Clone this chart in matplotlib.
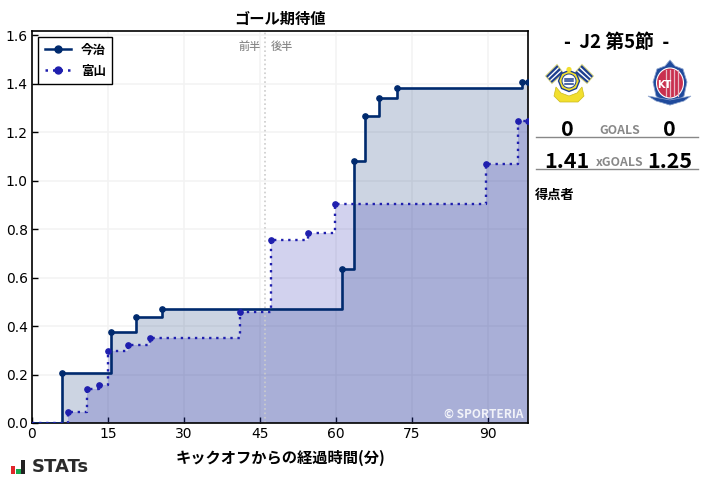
import matplotlib
matplotlib.use("Agg")
import matplotlib.pyplot as plt
from matplotlib.patches import Rectangle, Polygon, Circle, Ellipse, RegularPolygon

plt.rcParams["font.family"] = ["Noto Sans CJK JP", "DejaVu Sans"]

W, H = 707, 479

home_name = "今治"
away_name = "富山"
home_minutes = [0, 5.9, 15.6, 20.6, 25.7, 61.3, 63.6, 65.7, 68.6, 72.2, 96.9, 98]
home_xg = [0, 0.208, 0.375, 0.437, 0.47, 0.635, 1.082, 1.267, 1.34, 1.383, 1.408, 1.408]
away_minutes = [0, 7.2, 10.9, 13.3, 15.1, 19.0, 23.4, 41.0, 47.2, 54.6, 59.8, 89.8, 96.1, 98]
away_xg = [0, 0.046, 0.14, 0.156, 0.297, 0.322, 0.353, 0.458, 0.755, 0.785, 0.904, 1.069, 1.245, 1.245]
x_ticks = [0, 15, 30, 45, 60, 75, 90]
y_ticks = [0.0, 0.2, 0.4, 0.6, 0.8, 1.0, 1.2, 1.4, 1.6]

home_color = "#002a6e"
away_color = "#1f1fae"

fig = plt.figure(figsize=(W / 100, H / 100), dpi=100)
ax = fig.add_axes([32 / W, 1 - 423 / H, 496 / W, 392 / H])

ax.grid(True, color="#f3f3f3", linewidth=1.2, zorder=0)
ax.set_axisbelow(True)

ax.fill_between(home_minutes, home_xg, step="post", color=home_color, alpha=0.2, linewidth=0)
ax.fill_between(away_minutes, away_xg, step="post", color=away_color, alpha=0.2, linewidth=0)

ax.plot(home_minutes[1:], home_xg[1:], "o", color=home_color, markersize=3.8, zorder=4)
ax.plot(away_minutes[1:], away_xg[1:], "o", color=away_color, markersize=3.8, zorder=4)
ax.step(home_minutes, home_xg, where="post", color=home_color, linewidth=1.9, zorder=3)
ax.step(away_minutes, away_xg, where="post", color=away_color, linewidth=1.7, linestyle=(0, (1, 2)), zorder=3)

ax.plot([], [], "-o", color=home_color, markersize=5, linewidth=1.8, label=home_name)
ax.plot([], [], linestyle=(0, (1, 2)), marker="o", color=away_color, markersize=5, linewidth=1.8, label=away_name)

ax.axvline(46, color="#cccccc", linestyle=":", linewidth=1.2, zorder=2)
ax.text(45.2, 1.555, "前半", ha="right", va="center", fontsize=8, fontweight="medium", color="#888888")
ax.text(47.2, 1.555, "後半", ha="left", va="center", fontsize=8, fontweight="medium", color="#888888")
ax.text(97.2, 0.037, "© SPORTERIA", ha="right", va="center", fontsize=8.5,
        fontweight="bold", color="white", alpha=0.85)

ax.set_xlim(0, 98)
ax.set_ylim(0, 392 / 242.2)
ax.set_xticks(x_ticks)
ax.set_yticks(y_ticks)
ax.tick_params(direction="in", length=4, width=1, labelsize=10, pad=3)
for label in ax.get_xticklabels() + ax.get_yticklabels():
    label.set_family("DejaVu Sans")
for spine in ax.spines.values():
    spine.set_linewidth(1.2)

ax.set_title("ゴール期待値", fontsize=11, fontweight="bold", pad=5)
ax.set_xlabel("キックオフからの経過時間(分)", fontsize=11, fontweight="bold", labelpad=6)

leg = ax.legend(loc="upper left", bbox_to_anchor=(0.0, 1.0), fontsize=9, fancybox=False,
                edgecolor="black", framealpha=1, borderaxespad=0.5, handlelength=2.1,
                handletextpad=0.8, labelspacing=0.65, borderpad=0.5)
leg.get_frame().set_linewidth(1)
for t in leg.get_texts():
    t.set_fontweight("bold")


def px_text(x, y, s, **kw):
    fig.text(x / W, 1 - y / H, s, ha="center", va="center", **kw)


px_text(617, 42, "-  J2 第5節  -", fontsize=13.5, fontweight="bold")
px_text(567, 129, "0", fontsize=15.5, fontweight="bold")
px_text(669.5, 129, "0", fontsize=15.5, fontweight="bold")
px_text(620, 130.5, "GOALS", fontsize=8.8, fontweight="bold", color="#888888")
px_text(567, 161, "1.41", fontsize=15.5, fontweight="bold")
px_text(669.5, 161, "1.25", fontsize=15.5, fontweight="bold")
px_text(620, 162.5, "xGOALS", fontsize=8.8, fontweight="bold", color="#888888")
fig.text(535 / W, 1 - 195 / H, "得点者", ha="left", va="center", fontsize=9.5, fontweight="bold")

panel = fig.add_axes([0, 0, 1, 1], zorder=5)
panel.set_xlim(0, W)
panel.set_ylim(H, 0)
panel.axis("off")
panel.patch.set_alpha(0)

panel.plot([536, 698], [137, 137], color="#888888", linewidth=1)
panel.plot([536, 698], [169, 169], color="#888888", linewidth=1)


def flag(a, b, c, d):
    # a-b is the top edge, d-c the bottom edge; stripes run across the flag
    panel.add_patch(Polygon([a, b, c, d], closed=True, facecolor="white", edgecolor="#d6d27e", linewidth=1.2))
    for s, e in ((0.02, 0.24), (0.38, 0.62), (0.76, 0.98)):
        p1 = (a[0] + (d[0] - a[0]) * s, a[1] + (d[1] - a[1]) * s)
        p2 = (b[0] + (c[0] - b[0]) * s, b[1] + (c[1] - b[1]) * s)
        p3 = (b[0] + (c[0] - b[0]) * e, b[1] + (c[1] - b[1]) * e)
        p4 = (a[0] + (d[0] - a[0]) * e, a[1] + (d[1] - a[1]) * e)
        panel.add_patch(Polygon([p1, p2, p3, p4], closed=True, facecolor="#1d3f8f", edgecolor="none"))


# Imabari crest, rough
flag((546, 76), (557, 65), (563, 73), (552, 83))
flag((593, 76), (582, 65), (575, 73), (587, 83))
panel.add_patch(Polygon([(556, 87), (561, 93), (569, 96), (577, 93), (582, 87), (584, 96), (578, 102), (560, 102), (554, 96)],
                        closed=True, facecolor="#f2df2e", edgecolor="#c9b91e", linewidth=0.5))
panel.add_patch(RegularPolygon((569, 81), 8, radius=10.5, facecolor="#f2df2e", edgecolor="#1d3f8f", linewidth=1))
panel.add_patch(Circle((569, 81), 7, facecolor="white", edgecolor="#1d3f8f", linewidth=0.7))
for y in (78.5, 81, 83.5):
    panel.plot([565, 573], [y, y], color="#1d3f8f", linewidth=1.1)
panel.add_patch(Circle((569, 69.5), 2.6, facecolor="#f2df2e", edgecolor="none"))

# Toyama crest, rough
panel.add_patch(Polygon([(670, 60), (675, 66), (683, 69), (687, 82), (684, 96), (676, 103), (670, 105),
                         (664, 103), (656, 96), (653, 82), (657, 69), (665, 66)],
                        closed=True, facecolor="#1f4a9c", edgecolor="#8fa6cf", linewidth=0.6))
panel.add_patch(Ellipse((670, 83), 27, 30, facecolor="#c9304f", edgecolor="white", linewidth=0.8))
for x in (666, 670, 674, 678):
    panel.plot([x, x], [70, 96], color="#e8b8c4", linewidth=0.9)
panel.add_patch(Polygon([(648, 96), (670, 100), (691, 96), (684, 101), (670, 105), (656, 101)],
                        closed=True, facecolor="#1f4a9c", edgecolor="#8fa6cf", linewidth=0.5))
panel.text(664, 85, "KT", fontsize=7, color="white", ha="center", va="center", fontweight="bold",
           family="DejaVu Sans")

# STATs logo
panel.add_patch(Rectangle((10.5, 466), 4.5, 8, facecolor="#e0262b", edgecolor="none"))
panel.add_patch(Rectangle((16, 469), 4.5, 5, facecolor="#18a84e", edgecolor="none"))
panel.add_patch(Rectangle((21, 459.5), 4, 14.5, facecolor="#222222", edgecolor="none"))
panel.text(32, 467, "STATs", fontsize=13, color="#2b2b2b", ha="left", va="center", fontweight="bold",
           family="DejaVu Sans")

fig.savefig("out.png", dpi=100)
